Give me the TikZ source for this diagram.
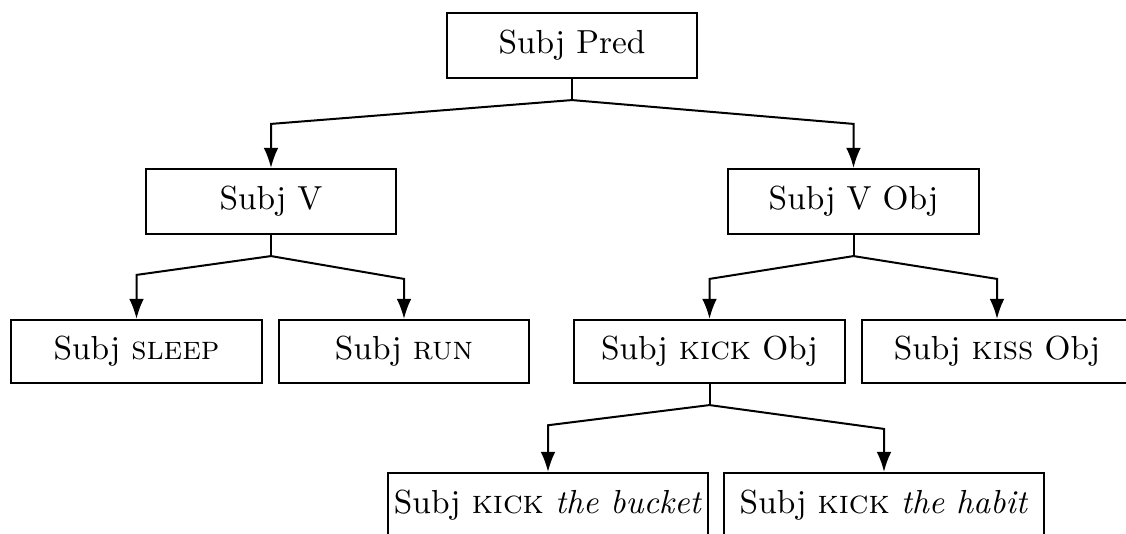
\documentclass[tikz,border=0pt]{standalone}
\usetikzlibrary{arrows.meta,calc}
\tikzset{
  % Construction box
  cbox/.style={rectangle,draw=black,line width=0.65pt,
    minimum width=75pt,minimum height=19.5pt,inner sep=0pt,
    align=center,font=\normalsize},
  % Arrows
  arr/.style={-{Latex[length=6pt,width=4.4pt]},line width=0.6pt},
  stem/.style={line width=0.6pt},
}

\begin{document}
\begin{tikzpicture}[x=0.3pt,y=-0.3pt]
  \useasboundingbox (0,0) rectangle (1126,534);

  % Level 1
  \node[cbox] (pred) at (572,45.5) {Subj Pred};

  % Level 2
  \node[cbox] (sv) at (271,201.5) {Subj V};
  \node[cbox,minimum width=75.3pt] (svo) at (853.5,201.5) {Subj V Obj};

  % Level 3
  \node[cbox,minimum width=75.3pt,minimum height=18.9pt] (sleep) at (136.5,351.5) {Subj \textsc{sleep}};
  \node[cbox,minimum height=18.9pt] (run) at (404,351.5) {Subj \textsc{run}};
  \node[cbox,minimum width=81.3pt,minimum height=18.9pt] (kick) at (709.5,351.5) {Subj \textsc{kick} Obj};
  \node[cbox,minimum width=81pt,minimum height=18.9pt] (kiss) at (997,351.5) {Subj \textsc{kiss} Obj};

  % Level 4
  \node[cbox,minimum width=96pt] (bucket) at (548,505.5) {Subj \textsc{kick} \textit{the bucket}};
  \node[cbox,minimum width=96pt] (habit) at (884,505.5) {Subj \textsc{kick} \textit{the habit}};

  % Connectors
  \draw[stem] (pred.south) -- ++(0,21) coordinate (p0);
  \draw[arr] (p0) -- ([yshift=13.2pt]sv.north) -- (sv.north);
  \draw[arr] (p0) -- ([yshift=13.2pt]svo.north) -- (svo.north);

  \draw[stem] (sv.south) -- ++(0,21) coordinate (v0);
  \draw[arr] (v0) -- ([yshift=13.2pt]sleep.north) -- (sleep.north);
  \draw[arr] (v0) -- ([yshift=12pt]run.north) -- (run.north);

  \draw[stem] (svo.south) -- ++(0,21) coordinate (o0);
  \draw[arr] (o0) -- ([yshift=12pt]kick.north) -- (kick.north);
  \draw[arr] (o0) -- ([yshift=12pt]kiss.north) -- (kiss.north);

  \draw[stem] (kick.south) -- ++(0,21) coordinate (k0);
  \draw[arr] (k0) -- ([yshift=14pt]bucket.north) -- (bucket.north);
  \draw[arr] (k0) -- ([yshift=12.9pt]habit.north) -- (habit.north);
\end{tikzpicture}
\end{document}
